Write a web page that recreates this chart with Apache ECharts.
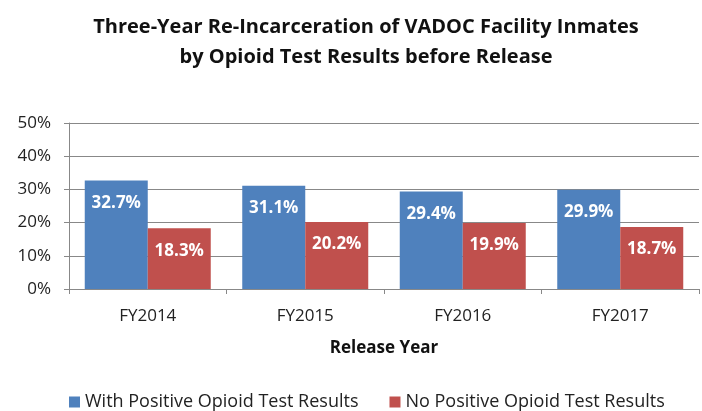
<!DOCTYPE html>
<html>
<head>
<meta charset="utf-8">
<script src="https://cdn.jsdelivr.net/npm/echarts@6/dist/echarts.min.js"></script>
<style>
  html, body { margin: 0; padding: 0; background: #fff; }
  #chart { width: 702px; height: 411px; }
</style>
</head>
<body>
<div id="chart"></div>
<script>
  // data
  var categories = ['FY2014', 'FY2015', 'FY2016', 'FY2017'];
  var positive = [32.7, 31.1, 29.4, 29.9];
  var noPositive = [18.3, 20.2, 19.9, 18.7];
  var seriesNames = ['With Positive Opioid Test Results', 'No Positive Opioid Test Results'];
  var yTicks = [0, 10, 20, 30, 40, 50];

  var font = '"Open Sans", "Noto Sans", sans-serif';
  var chart = echarts.init(document.getElementById('chart'));

  var label = {
    show: true,
    position: 'insideTop',
    distance: 14,
    color: '#fff',
    fontWeight: 'bold',
    fontSize: 17,
    fontFamily: font,
    formatter: function (p) { return p.value.toFixed(1) + '%'; }
  };

  var option = {
    animation: false,
    title: {
      text: 'Three-Year Re-Incarceration of VADOC Facility Inmates\nby Opioid Test Results before Release',
      left: 361,
      textAlign: 'center',
      top: 7,
      textStyle: { fontFamily: font, fontWeight: 'bold', fontSize: 20, lineHeight: 30, color: '#111' }
    },
    grid: { left: 69, right: 3, top: 123, bottom: 122 },
    legend: {
      top: 388,
      left: 64,
      itemWidth: 11,
      itemHeight: 11,
      itemGap: 31,
      icon: 'rect',
      textStyle: { fontFamily: font, fontSize: 18, color: '#222' },
      data: seriesNames
    },
    xAxis: {
      type: 'category',
      data: categories,
      name: 'Release Year',
      nameLocation: 'middle',
      nameGap: 51,
      nameTextStyle: { fontFamily: font, fontWeight: 'bold', fontSize: 17, color: '#111' },
      axisLine: { lineStyle: { color: '#888' } },
      axisTick: { show: true, length: 5, lineStyle: { color: '#888' } },
      axisLabel: { fontFamily: font, fontSize: 17, color: '#222', margin: 19 }
    },
    yAxis: {
      type: 'value',
      min: yTicks[0],
      max: yTicks[yTicks.length - 1],
      interval: 10,
      axisLine: { show: true, lineStyle: { color: '#888' } },
      axisTick: { show: true, length: 5, inside: false, lineStyle: { color: '#888' } },
      splitLine: { lineStyle: { color: '#888' } },
      axisLabel: { fontFamily: font, fontSize: 17, color: '#222', margin: 18, formatter: '{value}%' }
    },
    series: [
      {
        name: seriesNames[0],
        type: 'bar',
        data: positive,
        barGap: '0%',
        barCategoryGap: '20%',
        itemStyle: { color: '#4f81bd' },
        label: label
      },
      {
        name: seriesNames[1],
        type: 'bar',
        data: noPositive,
        itemStyle: { color: '#c0504d' },
        label: label
      }
    ]
  };

  chart.setOption(option);
</script>
</body>
</html>
